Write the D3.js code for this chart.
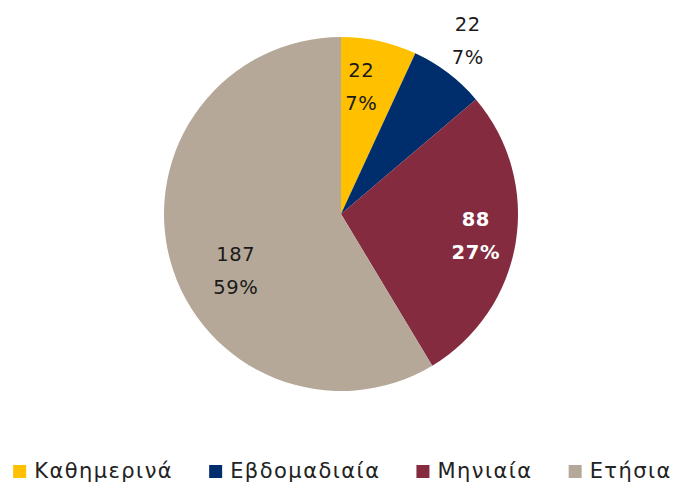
<!DOCTYPE html>
<html>
<head>
<meta charset="utf-8">
<script src="https://cdn.jsdelivr.net/npm/d3@7"></script>
<style>
  html, body { margin: 0; padding: 0; background: #fff; }
  svg { display: block; }
  text { font-family: "DejaVu Sans", "Noto Sans", sans-serif; }
</style>
</head>
<body>
<svg id="chart" width="675" height="483"></svg>
<script>
// Subscription types and counts
const categories = ["Καθημερινά", "Εβδομαδιαία", "Μηνιαία", "Ετήσια"];
const counts = [22, 22, 88, 187];
const percentLabels = ["7%", "7%", "27%", "59%"];
const colors = ["#FFC000", "#002D6C", "#842B40", "#B5A898"];

// Label placement per slice: radius as a fraction of the pie radius, angle nudge (deg), ink colour
const labelRadius = [0.74, 1.22, 0.77, 0.67];
const labelNudge = [-3.5, -1.3, -1.0, -12];
const labelInk = ["#1a1a1a", "#1a1a1a", "#ffffff", "#1a1a1a"];

const W = 675, H = 483;
const cx = 341, cy = 214, R = 177;
const svg = d3.select("#chart");

const pie = d3.pie().sort(null).value(d => d)(counts);
const arc = d3.arc().innerRadius(0).outerRadius(R);

const g = svg.append("g").attr("transform", `translate(${cx},${cy})`);
g.selectAll("path.slice")
  .data(pie)
  .join("path")
  .attr("class", "slice")
  .attr("d", arc)
  .attr("fill", (d, i) => colors[i]);

// Value / percentage labels
const fontSize = 19.5;
pie.forEach((d, i) => {
  const a = (d.startAngle + d.endAngle) / 2 + labelNudge[i] * Math.PI / 180;
  const r = R * labelRadius[i];
  const x = r * Math.sin(a), y = -r * Math.cos(a);
  const t = g.append("text")
    .attr("text-anchor", "middle")
    .attr("fill", labelInk[i])
    .style("font-size", fontSize + "px")
    .style("letter-spacing", "0.6px")
    .attr("font-weight", i === 2 ? 700 : 400);
  t.append("tspan").attr("x", x).attr("y", y - 8).text(counts[i]);
  t.append("tspan").attr("x", x).attr("y", y + 25).text(percentLabels[i]);
});

// Legend, centred under the pie
const legend = svg.append("g");
const sw = 13, gapSw = 8, gapItem = 36, legFont = 21, legY = 478;
let xPos = 0;
const items = categories.map((c, i) => {
  const it = legend.append("g");
  it.append("rect").attr("x", 0).attr("y", -sw).attr("width", sw).attr("height", sw).attr("fill", colors[i]);
  const t = it.append("text").attr("x", sw + gapSw).attr("y", 0)
    .style("font-size", legFont + "px").style("letter-spacing", "1.45px")
    .attr("fill", "#222").text(c);
  const w = sw + gapSw + t.node().getComputedTextLength();
  it.attr("transform", `translate(${xPos},${legY})`);
  xPos += w + gapItem;
  return it;
});
const total = xPos - gapItem;
legend.attr("transform", `translate(${(W - total) / 2 + 5},0)`);
</script>
</body>
</html>
